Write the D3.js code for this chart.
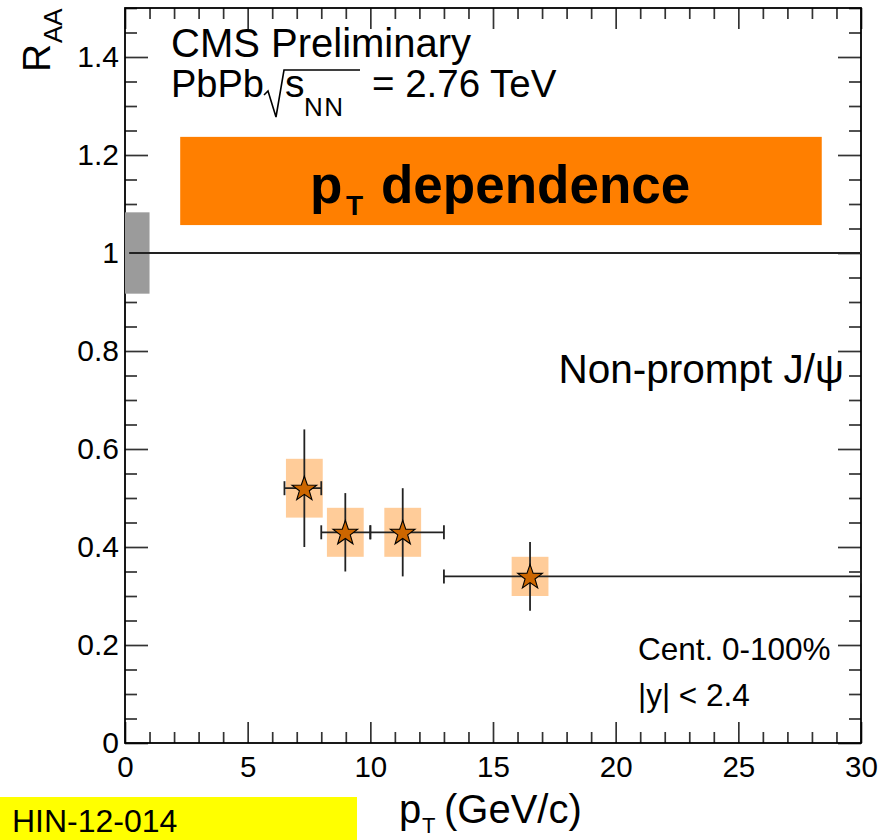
<!DOCTYPE html>
<html>
<head>
<meta charset="utf-8">
<script src="https://cdn.jsdelivr.net/npm/d3@7"></script>
<style>
  html, body { margin: 0; padding: 0; background: #fff; }
  svg { display: block; font-family: "Liberation Sans", Arial, Helvetica, sans-serif; }
</style>
</head>
<body>
<svg id="chart" width="889" height="840"></svg>
<script>
// Non-prompt J/psi nuclear modification factor vs pT (PbPb, 2.76 TeV)
const ptCenter = [7.31, 8.98, 11.32, 16.51];
const ptLow    = [6.5, 8, 10, 13];
const ptHigh   = [8, 10, 13, 30];
const raa      = [0.52, 0.43, 0.43, 0.34];
const statErr  = [0.12, 0.08, 0.09, 0.07];
const sysErr   = [0.06, 0.05, 0.05, 0.04];
const sysBoxHalfWidth = 0.75;   // pT half-width of the systematic boxes
const globalUnc = 0.083;         // global uncertainty drawn at R_AA = 1

const xMajorTicks = [0, 5, 10, 15, 20, 25, 30];
const yMajorTicks = [0, 0.2, 0.4, 0.6, 0.8, 1, 1.2, 1.4];
const yTickLabels = ["0", "0.2", "0.4", "0.6", "0.8", "1", "1.2", "1.4"];

const svg = d3.select("#chart");
const L = 125, R = 861, T = 8, B = 743;
const x = d3.scaleLinear().domain([0, 30]).range([L, R]);
const y = d3.scaleLinear().domain([0, 1.5]).range([B, T]);

const xMinor = d3.range(0, 31, 1).filter(v => v % 5 !== 0);
const yMinor = d3.range(0, 1.5001, 0.05).map(v => +v.toFixed(2))
  .filter(v => Math.abs(v / 0.2 - Math.round(v / 0.2)) > 1e-6);

const tickColor = "#333";
function styleAxis(g) {
  g.select(".domain").remove();
  g.selectAll(".tick line").attr("stroke", tickColor).attr("stroke-width", 1.7);
}

// bottom axis
svg.append("g").attr("transform", `translate(0,${B})`)
  .call(d3.axisBottom(x).tickValues(xMajorTicks).tickSize(-21).tickPadding(13).tickFormat(d3.format("d")))
  .call(styleAxis)
  .call(g => g.selectAll("text").attr("font-size", 29.5).attr("fill", "#000").attr("font-family", null));
svg.append("g").attr("transform", `translate(0,${B})`)
  .call(d3.axisBottom(x).tickValues(xMinor).tickSize(-11).tickFormat(""))
  .call(styleAxis);
// top axis
svg.append("g").attr("transform", `translate(0,${T})`)
  .call(d3.axisTop(x).tickValues(xMajorTicks).tickSize(-21).tickFormat(""))
  .call(styleAxis);
svg.append("g").attr("transform", `translate(0,${T})`)
  .call(d3.axisTop(x).tickValues(xMinor).tickSize(-11).tickFormat(""))
  .call(styleAxis);
// left axis
svg.append("g").attr("transform", `translate(${L},0)`)
  .call(d3.axisLeft(y).tickValues(yMajorTicks).tickSize(-23).tickPadding(6)
    .tickFormat((d, i) => yTickLabels[i]))
  .call(styleAxis)
  .call(g => g.selectAll("text").attr("font-size", 30).attr("fill", "#000").attr("font-family", null));
svg.append("g").attr("transform", `translate(${L},0)`)
  .call(d3.axisLeft(y).tickValues(yMinor).tickSize(-12).tickFormat(""))
  .call(styleAxis);
// right axis
svg.append("g").attr("transform", `translate(${R},0)`)
  .call(d3.axisRight(y).tickValues(yMajorTicks).tickSize(-23).tickFormat(""))
  .call(styleAxis);
svg.append("g").attr("transform", `translate(${R},0)`)
  .call(d3.axisRight(y).tickValues(yMinor).tickSize(-12).tickFormat(""))
  .call(styleAxis);

// frame
svg.append("rect").attr("x", L).attr("y", T).attr("width", R - L).attr("height", B - T)
  .attr("fill", "none").attr("stroke", "#000").attr("stroke-width", 1.8);

// global uncertainty box at unity
svg.append("rect")
  .attr("x", x(0)).attr("width", x(1) - x(0))
  .attr("y", y(1 + globalUnc)).attr("height", y(1 - globalUnc) - y(1 + globalUnc))
  .attr("fill", "#9b9b9b");

// reference line at R_AA = 1
svg.append("line")
  .attr("x1", x(0.17)).attr("x2", x(30)).attr("y1", y(1)).attr("y2", y(1))
  .attr("stroke", "#222").attr("stroke-width", 1.8);

// title banner
svg.append("rect")
  .attr("x", x(2.25)).attr("width", x(28.4) - x(2.25))
  .attr("y", y(1.237)).attr("height", y(1.057) - y(1.237))
  .attr("fill", "#ff7f00");
const banner = svg.append("g").attr("font-weight", "bold").attr("fill", "#000");
banner.append("text").attr("x", 310).attr("y", 203).attr("font-size", 53).text("p");
banner.append("text").attr("x", 346).attr("y", 215).attr("font-size", 28).text("T");
banner.append("text").attr("x", 381).attr("y", 203).attr("font-size", 53).text("dependence");

// data points
const idx = d3.range(raa.length);
const pts = svg.append("g");
pts.selectAll("rect.sys").data(idx).join("rect").attr("class", "sys")
  .attr("x", i => x(ptCenter[i] - sysBoxHalfWidth))
  .attr("width", i => x(ptCenter[i] + sysBoxHalfWidth) - x(ptCenter[i] - sysBoxHalfWidth))
  .attr("y", i => y(raa[i] + sysErr[i]))
  .attr("height", i => y(raa[i] - sysErr[i]) - y(raa[i] + sysErr[i]))
  .attr("fill", "#ffcc99");

const eb = pts.append("g").attr("stroke", "#222").attr("stroke-width", 1.8);
eb.selectAll("line.v").data(idx).join("line")
  .attr("x1", i => x(ptCenter[i])).attr("x2", i => x(ptCenter[i]))
  .attr("y1", i => y(raa[i] + statErr[i])).attr("y2", i => y(raa[i] - statErr[i]));
eb.selectAll("line.h").data(idx).join("line")
  .attr("x1", i => x(ptLow[i])).attr("x2", i => x(ptHigh[i]))
  .attr("y1", i => y(raa[i])).attr("y2", i => y(raa[i]));
eb.selectAll("line.cl").data(idx).join("line")
  .attr("x1", i => x(ptLow[i])).attr("x2", i => x(ptLow[i]))
  .attr("y1", i => y(raa[i]) - 7).attr("y2", i => y(raa[i]) + 7);
eb.selectAll("line.cr").data(idx).join("line")
  .attr("x1", i => x(ptHigh[i])).attr("x2", i => x(ptHigh[i]))
  .attr("y1", i => y(raa[i]) - 7).attr("y2", i => y(raa[i]) + 7);

function starPath(ro, ri) {
  const p = [];
  for (let k = 0; k < 10; k++) {
    const r = k % 2 === 0 ? ro : ri;
    const a = -Math.PI / 2 + k * Math.PI / 5;
    p.push([r * Math.cos(a), r * Math.sin(a)]);
  }
  return "M" + p.map(q => q[0].toFixed(2) + "," + q[1].toFixed(2)).join("L") + "Z";
}
pts.selectAll("path.star").data(idx).join("path").attr("class", "star")
  .attr("transform", i => `translate(${x(ptCenter[i])},${y(raa[i]) + 1})`)
  .attr("d", starPath(13, 5.2))
  .attr("fill", "#cc6600").attr("stroke", "#000").attr("stroke-width", 1.1)
  .attr("stroke-linejoin", "miter");

// header text
svg.append("text").attr("x", 171).attr("y", 57).attr("font-size", 40).text("CMS Preliminary");
svg.append("text").attr("x", 171).attr("y", 97).attr("font-size", 38).text("PbPb");
svg.append("path")
  .attr("d", "M264,95 L268,91 L276,117 L284,70 L360,70")
  .attr("fill", "none").attr("stroke", "#000").attr("stroke-width", 1.6);
svg.append("text").attr("x", 285).attr("y", 97).attr("font-size", 39).text("s");
svg.append("text").attr("x", 304).attr("y", 116).attr("font-size", 26).attr("letter-spacing", 1.5).text("NN");
svg.append("text").attr("x", 372).attr("y", 97).attr("font-size", 38.5).text("= 2.76 TeV");

svg.append("text").attr("x", 844).attr("y", 383).attr("font-size", 40.5)
  .attr("text-anchor", "end").text("Non-prompt J/ψ");
svg.append("text").attr("x", 638).attr("y", 660).attr("font-size", 31.5).text("Cent. 0-100%");
svg.append("text").attr("x", 638).attr("y", 706).attr("font-size", 31.5).text("|y| < 2.4");

// axis titles
const xt = svg.append("g");
xt.append("text").attr("x", 399).attr("y", 823).attr("font-size", 40).text("p");
xt.append("text").attr("x", 422).attr("y", 833).attr("font-size", 22).text("T");
xt.append("text").attr("x", 444).attr("y", 823).attr("font-size", 40).text("(GeV/c)");

const yt = svg.append("g").attr("transform", "translate(50,72) rotate(-90)");
yt.append("text").attr("x", 0).attr("y", 0).attr("font-size", 39).text("R");
yt.append("text").attr("x", 29).attr("y", 12).attr("font-size", 26).text("AA");

// analysis tag
svg.append("rect").attr("x", 0).attr("y", 797).attr("width", 357).attr("height", 43).attr("fill", "#ffff00");
svg.append("text").attr("x", 12).attr("y", 832).attr("font-size", 32).text("HIN-12-014");
</script>
</body>
</html>
